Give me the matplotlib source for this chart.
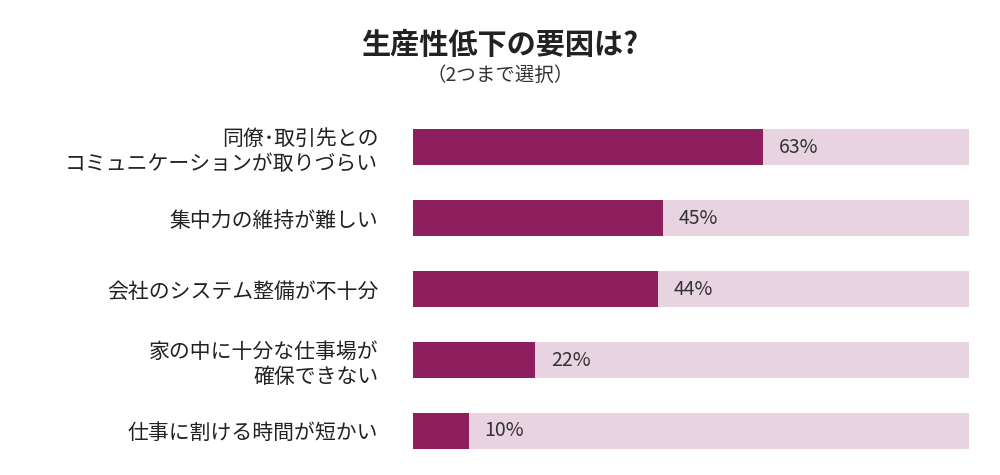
import matplotlib
matplotlib.use("Agg")
import matplotlib.pyplot as plt

categories = ["同僚･取引先との\nコミュニケーションが取りづらい", "集中力の維持が難しい",
              "会社のシステム整備が不十分", "家の中に十分な仕事場が\n確保できない", "仕事に割ける時間が短かい"]
values = [63, 45, 44, 22, 10]
total = 100

plt.rcParams["font.family"] = "Noto Sans CJK JP"
fig = plt.figure(figsize=(10, 4.75), dpi=100)
ax = fig.add_axes([0.413, 0.018, 0.556, 0.747])
ys = list(range(len(categories)))
ax.barh(ys, [total]*len(values), height=0.51, color="#E8D3E0")
ax.barh(ys, values, height=0.51, color="#8E1F5E")
for y, v in zip(ys, values):
    ax.text(v + 2.8, y, f"{v}%", va="center", ha="left", fontsize=14, color="#333333")
ax.set_xlim(0, total)
ax.set_ylim(len(categories) - 0.5, -0.5)
ax.set_yticks(ys)
ax.set_yticklabels(categories, fontsize=15, color="#222222", linespacing=1.2)
ax.tick_params(axis="y", length=0, pad=25)
ax.set_xticks([])
for s in ax.spines.values():
    s.set_visible(False)
fig.text(0.5, 0.905, "生産性低下の要因は?", ha="center", va="center", fontsize=21, fontweight="bold", color="#222222")
fig.text(0.5, 0.842, "（2つまで選択）", ha="center", va="center", fontsize=14, color="#333333")
fig.savefig("out.png", dpi=100)
